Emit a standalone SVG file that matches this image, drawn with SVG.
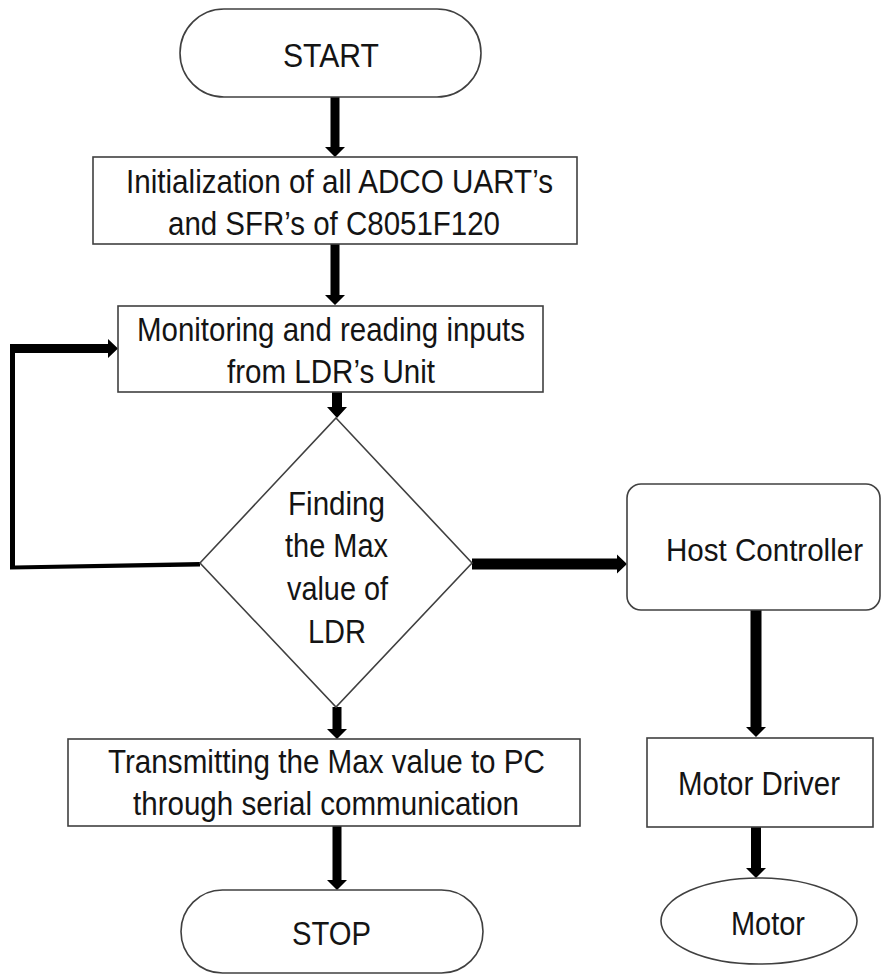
<svg xmlns="http://www.w3.org/2000/svg" width="881" height="976" viewBox="0 0 881 976">
<style>
  .shape { fill: #ffffff; stroke: #404040; stroke-width: 1.6; }
  .lbl { font-family: "Liberation Sans", Arial, sans-serif; font-size: 34px; fill: #141414; text-anchor: middle; }
  .arrow { fill: #000000; stroke: none; }
</style>
<rect width="881" height="976" fill="#ffffff"/>

<g id="connectors">
  <path class="arrow" d="M330.5 97 L339.5 97 L339.5 147 L345 147 L335 157 L325 147 L330.5 147 Z"/>
  <path class="arrow" d="M330.5 244 L339.5 244 L339.5 295 L345 295 L335 305 L325 295 L330.5 295 Z"/>
  <path class="arrow" d="M332 392 L342 392 L342 407 L347 407 L337 418 L327 407 L332 407 Z"/>
  <path class="arrow" d="M332.5 707 L341.5 707 L341.5 729 L347 729 L337 739 L327 729 L332.5 729 Z"/>
  <path class="arrow" d="M332.5 826 L341.5 826 L341.5 880 L347 880 L337 890 L327 880 L332.5 880 Z"/>
  <path class="arrow" d="M750.5 610 L761.5 610 L761.5 727 L766 727 L756 737 L746 727 L750.5 727 Z"/>
  <path class="arrow" d="M751 827 L761 827 L761 868 L766 868 L756 878 L746 868 L751 868 Z"/>
  <path class="arrow" d="M472 558.5 L617 558.5 L617 554.5 L627 564 L617 573.5 L617 569.5 L472 569.5 Z"/>
  <path class="arrow" d="M10 344 L108 344 L108 339 L118 348.5 L108 358 L108 353 L15 353 L15 565.5 L200 562 L200 566.5 L10 569.5 Z"/>
</g>

<g id="start">
  <rect class="shape" x="180" y="9" width="301" height="88" rx="44" ry="44"/>
  <text class="lbl" x="331" y="67" textLength="96" lengthAdjust="spacingAndGlyphs">START</text>
</g>

<g id="init">
  <rect class="shape" x="93" y="157" width="484" height="87"/>
  <text class="lbl" x="339.5" y="193" textLength="427" lengthAdjust="spacingAndGlyphs">Initialization of all ADCO UART’s</text>
  <text class="lbl" x="334" y="235" textLength="332" lengthAdjust="spacingAndGlyphs">and SFR’s of C8051F120</text>
</g>

<g id="monitor">
  <rect class="shape" x="118" y="306" width="425" height="86"/>
  <text class="lbl" x="331" y="341" textLength="388" lengthAdjust="spacingAndGlyphs">Monitoring and reading inputs</text>
  <text class="lbl" x="331" y="383" textLength="208" lengthAdjust="spacingAndGlyphs">from LDR’s Unit</text>
</g>

<g id="decision">
  <polygon class="shape" points="336,418 472,563 336,707 200,563"/>
  <text class="lbl" x="336.5" y="515" textLength="97" lengthAdjust="spacingAndGlyphs">Finding</text>
  <text class="lbl" x="336.5" y="557" textLength="103" lengthAdjust="spacingAndGlyphs">the Max</text>
  <text class="lbl" x="337.5" y="600" textLength="101" lengthAdjust="spacingAndGlyphs">value of</text>
  <text class="lbl" x="337" y="643" textLength="58" lengthAdjust="spacingAndGlyphs">LDR</text>
</g>

<g id="transmit">
  <rect class="shape" x="68" y="739" width="512" height="87"/>
  <text class="lbl" x="326.5" y="773" textLength="437" lengthAdjust="spacingAndGlyphs">Transmitting the Max value to PC</text>
  <text class="lbl" x="326" y="815" textLength="386" lengthAdjust="spacingAndGlyphs">through serial communication</text>
</g>

<g id="stop">
  <rect class="shape" x="181" y="890" width="302" height="83" rx="41.5" ry="41.5"/>
  <text class="lbl" x="331.5" y="945" textLength="79" lengthAdjust="spacingAndGlyphs">STOP</text>
</g>

<g id="host">
  <rect class="shape" x="627" y="484" width="253" height="126" rx="14" ry="14"/>
  <text class="lbl" x="764.5" y="561" style="font-size:31px" textLength="197" lengthAdjust="spacingAndGlyphs">Host Controller</text>
</g>

<g id="driver">
  <rect class="shape" x="647" y="738" width="226" height="89"/>
  <text class="lbl" x="759" y="795" textLength="162" lengthAdjust="spacingAndGlyphs">Motor Driver</text>
</g>

<g id="motor">
  <ellipse class="shape" cx="759" cy="921" rx="98" ry="43"/>
  <text class="lbl" x="768" y="935" textLength="74" lengthAdjust="spacingAndGlyphs">Motor</text>
</g>
</svg>
